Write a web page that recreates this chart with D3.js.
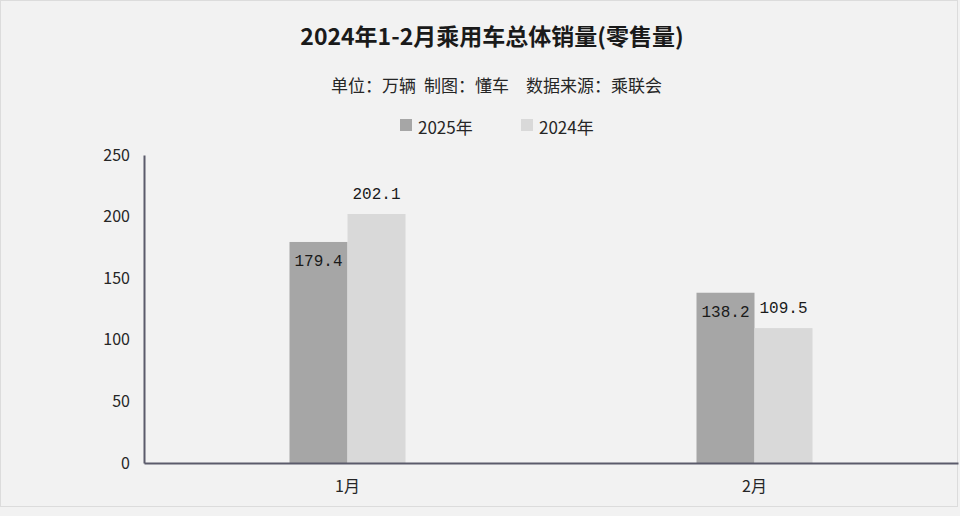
<!DOCTYPE html>
<html>
<head>
<meta charset="utf-8">
<script src="https://cdn.jsdelivr.net/npm/d3@7"></script>
<style>
  html, body { margin: 0; padding: 0; background: #f2f2f2; }
  svg { display: block; }
</style>
</head>
<body>
<div id="wrapper"></div>
<script>
const months = ["1月", "2月"]
const seriesNames = ["2025年", "2024年"]
const sales2025 = [179.4, 138.2]
const sales2024 = [202.1, 109.5]
const yTicks = [0, 50, 100, 150, 200, 250]
const subtitleParts = ["单位：万辆", "制图：懂车", "数据来源：乘联会"]
const colors = ["#a6a6a6", "#d9d9d9"]

const cjk = "'Noto Sans CJK SC', 'Noto Sans', sans-serif"

function drawBars () {
    let dimensions = {
        width: 960,
        height: 516,
        margin: { top: 155, right: 2, bottom: 53, left: 144 },
    }
    dimensions.boundedWidth = dimensions.width
        - dimensions.margin.left - dimensions.margin.right
    dimensions.boundedHeight = dimensions.height
        - dimensions.margin.top - dimensions.margin.bottom

    const wrapper = d3.select("#wrapper")
        .append("svg")
        .attr("width", dimensions.width)
        .attr("height", dimensions.height)

    // frame
    wrapper.append("rect")
        .attr("x", 0.5).attr("y", 0.5)
        .attr("width", 957).attr("height", 506)
        .attr("fill", "#f2f2f2")
        .attr("stroke", "#dcdcdc")

    // title + subtitle
    wrapper.append("text")
        .attr("x", 492).attr("y", 35)
        .attr("text-anchor", "middle")
        .attr("dominant-baseline", "central")
        .style("font-family", cjk)
        .style("font-size", "23px")
        .style("font-weight", "bold")
        .attr("fill", "#1a1a1a")
        .text("2024年1-2月乘用车总体销量(零售量)")

    const subX = [331, 424, 526]
    wrapper.selectAll(".sub")
        .data(subtitleParts)
        .join("text")
        .attr("class", "sub")
        .attr("x", (d, i) => subX[i]).attr("y", 84)
        .attr("dominant-baseline", "central")
        .style("font-family", cjk)
        .style("font-size", "17px")
        .attr("fill", "#262626")
        .text(d => d)

    // legend
    const legend = wrapper.append("g")
    const legendX = [400, 521]
    seriesNames.forEach((name, i) => {
        legend.append("rect")
            .attr("x", legendX[i]).attr("y", 119)
            .attr("width", 12).attr("height", 12)
            .attr("fill", colors[i])
        legend.append("text")
            .attr("x", legendX[i] + 18).attr("y", 126)
            .attr("dominant-baseline", "central")
            .style("font-family", cjk)
            .style("font-size", "17px")
            .attr("fill", "#262626")
            .text(name)
    })

    const bounds = wrapper.append("g")
        .attr("transform", `translate(${dimensions.margin.left}, ${dimensions.margin.top})`)

    const dataset = months.map((m, i) => ({
        month: m,
        values: [sales2025[i], sales2024[i]],
    }))

    const xScale = d3.scaleBand()
        .domain(months)
        .range([0, dimensions.boundedWidth])
        .paddingInner(0.715)
        .paddingOuter(0.3575)
    const xSub = d3.scaleBand()
        .domain(seriesNames)
        .range([0, xScale.bandwidth()])
    const yScale = d3.scaleLinear()
        .domain([0, 250])
        .range([dimensions.boundedHeight, 0])

    const groups = bounds.selectAll(".month")
        .data(dataset)
        .join("g")
        .attr("class", "month")
        .attr("transform", d => `translate(${xScale(d.month)}, 0)`)

    groups.selectAll("rect")
        .data(d => d.values.map((v, i) => ({ name: seriesNames[i], value: v, i })))
        .join("rect")
        .attr("x", d => xSub(d.name))
        .attr("y", d => yScale(d.value))
        .attr("width", xSub.bandwidth())
        .attr("height", d => dimensions.boundedHeight - yScale(d.value))
        .attr("fill", d => colors[d.i])

    // 2025 labels sit inside the bar top, 2024 labels above
    groups.selectAll(".label")
        .data(d => d.values.map((v, i) => ({ name: seriesNames[i], value: v, i })))
        .join("text")
        .attr("class", "label")
        .attr("x", d => xSub(d.name) + xSub.bandwidth() / 2)
        .attr("y", d => d.i === 0 ? yScale(d.value) + 20 : yScale(d.value) - 19)
        .attr("text-anchor", "middle")
        .attr("dominant-baseline", "central")
        .style("font-family", "'Liberation Mono', 'DejaVu Sans Mono', monospace")
        .style("font-size", "16px")
        .attr("fill", "#1a1a1a")
        .text(d => d.value.toFixed(1))

    // axes
    const yAxisGenerator = d3.axisLeft(yScale)
        .tickValues(yTicks)
        .tickSize(0)
        .tickPadding(14)
    const yAxis = bounds.append("g").call(yAxisGenerator)
    yAxis.selectAll("text")
        .style("font-family", cjk)
        .style("font-size", "16px")
        .attr("fill", "#262626")

    const xAxisGenerator = d3.axisBottom(xScale)
        .tickSize(0)
        .tickPadding(18)
    const xAxis = bounds.append("g")
        .attr("transform", `translate(0, ${dimensions.boundedHeight})`)
        .call(xAxisGenerator)
    xAxis.selectAll("text")
        .style("font-family", cjk)
        .style("font-size", "16px")
        .attr("fill", "#262626")

    xAxis.select(".domain").attr("stroke", "#5b5b6b").attr("stroke-width", 2)
    yAxis.select(".domain").attr("stroke", "#5b5b6b").attr("stroke-width", 2)
}

drawBars()
</script>
</body>
</html>
